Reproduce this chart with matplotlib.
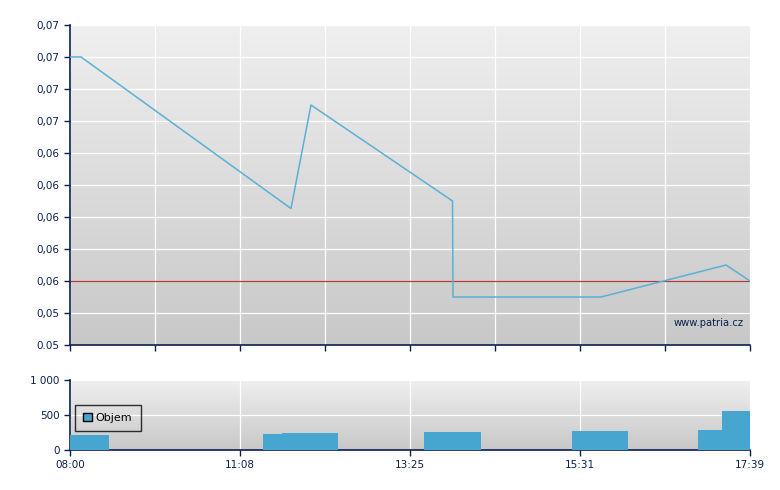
import numpy as np
import matplotlib
matplotlib.use("Agg")
import matplotlib.pyplot as plt
from matplotlib.patches import Patch

# ---- data ----
price_x = [0.0, 0.13, 2.60, 2.835, 4.50, 4.506, 6.247, 7.718, 8.0]
price_y = [0.0692, 0.0692, 0.05973, 0.0662, 0.0602, 0.0542, 0.0542, 0.0562, 0.0552]
ref_price = 0.0552

vol_left = [0.0, 2.27, 2.494, 4.165, 5.906, 7.388, 7.671]
vol_right = [0.459, 2.494, 3.153, 4.835, 6.565, 7.671, 8.0]
vol_values = [214, 229, 243, 257, 271, 286, 557]

y_ticks = [0.0512, 0.0532, 0.0552, 0.0572, 0.0592, 0.0612, 0.0632, 0.0652, 0.0672, 0.0692, 0.0712]
y_labels = ["0.05", "0,05", "0,06", "0,06", "0,06", "0,06", "0,06", "0,07", "0,07", "0,07", "0,07"]
x_tick_pos = [0, 2, 4, 6, 8]
x_tick_labels = ["08:00", "11:08", "13:25", "15:31", "17:39"]
vol_ticks = [0, 500, 1000]
vol_labels = ["0", "500", "1 000"]

navy = "#0b1f4f"
line_c = "#5ab0d6"
bar_c = "#46a6cf"

plt.rcParams['font.family'] = ['DejaVu Sans']
fig = plt.figure(figsize=(7.8, 4.9), dpi=100)
W, H = 780, 490
ax = fig.add_axes([70 / W, 1 - 345 / H, 680 / W, 320 / H])
axv = fig.add_axes([70 / W, 1 - 450 / H, 680 / W, 70 / H])

grad = np.linspace(0, 1, 256).reshape(-1, 1)
for a in (ax, axv):
    a.imshow(grad, extent=[0, 1, 0, 1], transform=a.transAxes, aspect='auto',
             cmap=matplotlib.colors.LinearSegmentedColormap.from_list("g", ["#c8c8c8", "#efefef"]),
             origin='lower', zorder=0)
    for s in ("top", "right"):
        a.spines[s].set_visible(False)
    for s in ("left", "bottom"):
        a.spines[s].set_color(navy)
        a.spines[s].set_linewidth(1.2)
    a.tick_params(colors=navy, labelcolor=navy, labelsize=7.5, length=4, width=1)
    a.set_xlim(0, 8)

# main panel
ax.set_ylim(y_ticks[0], y_ticks[-1])
ax.set_yticks(y_ticks)
ax.set_yticklabels(y_labels)
ax.set_xticks(range(0, 9))
ax.set_xticklabels([])
ax.grid(True, color="white", linewidth=0.9, zorder=1)
ax.set_axisbelow(True)
ax.axhline(ref_price, color="#b03a3a", linewidth=0.9, zorder=2)
ax.plot(price_x, price_y, color=line_c, linewidth=1.1, zorder=3)
ax.text(0.99, 0.07, "www.patria.cz", transform=ax.transAxes, ha="right", va="center",
        color=navy, fontsize=7.2, zorder=4)

# volume panel
axv.set_ylim(0, 1000)
axv.set_yticks(vol_ticks)
axv.set_yticklabels(vol_labels)
axv.set_xticks(x_tick_pos)
axv.set_xticklabels(x_tick_labels)
axv.grid(True, color="white", linewidth=0.9, zorder=1)
axv.set_axisbelow(True)
widths = [r - l for l, r in zip(vol_left, vol_right)]
axv.bar(vol_left, vol_values, width=widths, align='edge', color=bar_c, linewidth=0, zorder=3)
leg = axv.legend(handles=[Patch(facecolor=bar_c, edgecolor="black", label="Objem")],
                 loc="upper left", bbox_to_anchor=(0.007, 0.65), frameon=True, fancybox=False,
                 fontsize=8, handlelength=0.8, handleheight=0.8, handletextpad=0.35,
                 borderpad=0.75, borderaxespad=0)
leg.get_frame().set_edgecolor("black")
leg.get_frame().set_facecolor("none")
leg.get_frame().set_linewidth(1)

fig.savefig("out.png", dpi=100)
